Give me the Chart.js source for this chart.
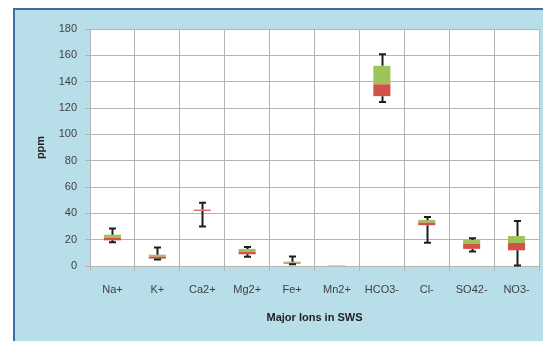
<!DOCTYPE html>
<html>
<head>
<meta charset="utf-8">
<script src="https://cdn.jsdelivr.net/npm/chart.js@4.4.0/dist/chart.umd.min.js"></script>
<style>
  html, body { margin: 0; padding: 0; background: #fff; overflow: hidden; }
  #frame {
    position: absolute; left: 13px; top: 8px; width: 560px; height: 360px;
    background: #b8dee9;
    border-left: 2px solid #3d6da6; border-top: 2px solid #3d6da6;
  }
  #c { position: absolute; left: 0; top: 0; }
</style>
</head>
<body>
<div id="frame"></div>
<canvas id="c" width="543" height="341"></canvas>
<script>
// ions and box plot stats (ppm)
const ions = ['Na+', 'K+', 'Ca2+', 'Mg2+', 'Fe+', 'Mn2+', 'HCO3-', 'Cl-', 'SO42-', 'NO3-'];
const minVals =    [18,   5,   30,   7,    1.3, 0.1,  124.6, 17.7, 11,   0.3];
const q1Vals =     [19.5, 5.6, 41.8, 8.9,  1.8, 0.1,  129,   31,   13,   11.9];
const medianVals = [21.5, 7.1, 42.4, 10.6, 2.5, 0.25, 138,   33,   16.7, 17.5];
const q3Vals =     [23.8, 8.6, 43,   13,   3.3, 0.45, 152,   35,   19.7, 22.8];
const maxVals =    [28.4, 14,  48,   14.4, 7.3, 0.45, 160.8, 37.2, 21,   34.2];
const yTicks = [0, 20, 40, 60, 80, 100, 120, 140, 160, 180];

const gridColor = '#b4b4b4';
const textColor = '#404040';

// white plot area
const plotBg = {
  id: 'plotBg',
  beforeDraw(chart) {
    const a = chart.chartArea, ctx = chart.ctx;
    ctx.save();
    ctx.fillStyle = '#fff';
    ctx.fillRect(a.left, a.top, a.right - a.left, a.bottom - a.top);
    ctx.restore();
  }
};

// whiskers from box edges to min / max
const whiskers = {
  id: 'whiskers',
  afterDatasetsDraw(chart) {
    const ctx = chart.ctx, x = chart.scales.x, y = chart.scales.y;
    ctx.save();
    ctx.strokeStyle = '#1e1e1e';
    ctx.lineWidth = 2;
    ions.forEach(function(name, i) {
      const px = Math.round(x.getPixelForValue(i)) + 0.5;
      const seg = [[q1Vals[i], minVals[i]], [q3Vals[i], maxVals[i]]];
      seg.forEach(function(s) {
        if (s[0] === s[1]) return;
        const y0 = y.getPixelForValue(s[0]), y1 = y.getPixelForValue(s[1]);
        ctx.beginPath();
        ctx.moveTo(px, y0);
        ctx.lineTo(px, y1);
        ctx.moveTo(px - 3.5, y1);
        ctx.lineTo(px + 3.5, y1);
        ctx.stroke();
      });
    });
    ctx.restore();
  }
};

const lowerBox = ions.map((n, i) => [q1Vals[i], medianVals[i]]);
const upperBox = ions.map((n, i) => [medianVals[i], q3Vals[i]]);

new Chart(document.getElementById('c'), {
  type: 'bar',
  data: {
    labels: ions,
    datasets: [
      { label: 'Q1-Median', data: lowerBox, backgroundColor: '#d4504a', borderWidth: 0 },
      { label: 'Median-Q3', data: upperBox, backgroundColor: '#9cc457', borderWidth: 0 }
    ]
  },
  options: {
    responsive: false,
    animation: false,
    layout: { padding: { top: 29, right: 4, left: 0, bottom: 0 } },
    plugins: { legend: { display: false }, tooltip: { enabled: false } },
    datasets: { bar: { grouped: false, categoryPercentage: 1, barPercentage: 0.38 } },
    scales: {
      x: {
        stacked: false,
        grid: { color: gridColor, offset: true, tickLength: 5, drawTicks: true },
        border: { color: gridColor },
        ticks: { color: textColor, padding: 12, font: { family: 'Liberation Sans', size: 11 } },
        title: {
          display: true, text: 'Major Ions in SWS', color: '#222',
          font: { family: 'Liberation Sans', size: 11, weight: 'bold' },
          padding: { top: 0, bottom: 16 }
        },
        afterFit(scale) { scale.height = 75; }
      },
      y: {
        min: 0, max: 180,
        afterBuildTicks(scale) { scale.ticks = yTicks.map(v => ({ value: v })); },
        grid: { color: gridColor, tickLength: 5 },
        border: { color: gridColor },
        ticks: { color: textColor, padding: 8, font: { family: 'Liberation Sans', size: 11 } },
        title: {
          display: true, text: 'ppm', color: '#222',
          font: { family: 'Liberation Sans', size: 11, weight: 'bold' },
          padding: { top: 34, bottom: 0 }
        },
        afterFit(scale) { scale.width = 90; }
      }
    }
  },
  plugins: [plotBg, whiskers]
});
</script>
</body>
</html>
